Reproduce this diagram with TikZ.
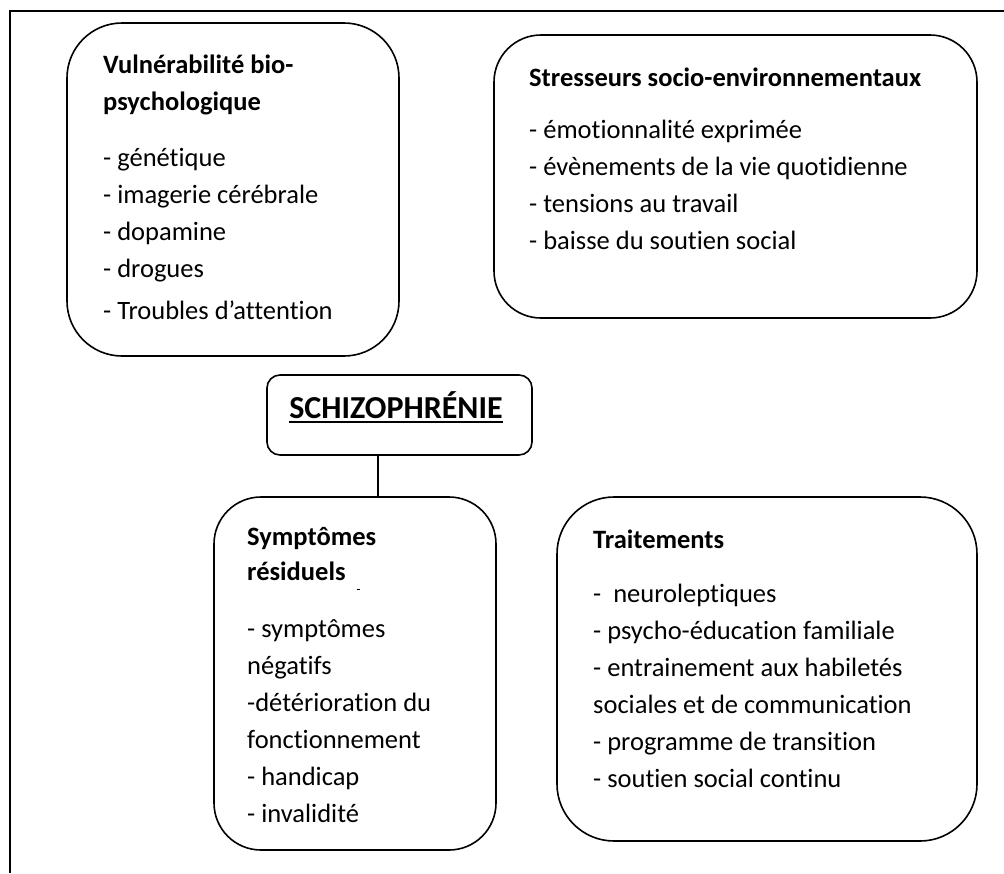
\documentclass[tikz,border=0pt]{standalone}
\usepackage{fontspec}
\setmainfont{Carlito}[Ligatures={TeX,NoCommon}]
\usepackage{tikz}

\newcommand{\thickul}[1]{\setbox0\hbox{#1}\rlap{\rule[-5pt]{\wd0}{2pt}}\box0}

\begin{document}
\begin{tikzpicture}[x=1pt, y=-1pt,
        roundbox/.style={draw, line width=1.6pt, inner sep=0pt},
        boxtext/.style={anchor=north west, inner sep=0pt, align=left,
            font=\fontsize{26.5}{37}\selectfont}]

        \useasboundingbox (0,0) rectangle (1004,873);

        % Frame of the page
        \draw[line width=1.5pt] (10,873) -- (10,11) -- (1004,11);

        % Defining the boxes
        \node[roundbox, minimum width=332, minimum height=333, rounded corners=55pt] (vulnerabilite) at (233,189.5) {};
        \node[roundbox, minimum width=483, minimum height=283, rounded corners=47pt] (stresseurs) at (735.5,176.5) {};
        \node[roundbox, minimum width=265, minimum height=80, rounded corners=13pt] (schizo) at (399.5,415) {};
        \node[roundbox, minimum width=282, minimum height=353, rounded corners=47pt] (symptomes) at (355,673.5) {};
        \node[roundbox, minimum width=420, minimum height=344, rounded corners=57pt] (traitements) at (767,669) {};

        % Texts of the boxes
        \node[boxtext] (vulntext) at (103,47.1) {\strut\textbf{Vulnérabilité bio-}\\
            \textbf{psychologique}\\[19pt]
            - génétique\\
            - imagerie cérébrale\\
            - dopamine\\
            - drogues\\[5pt]
            - Troubles d’attention};
        \node[boxtext] (stresstext) at (529,60.1) {\strut\textbf{Stresseurs socio-environnementaux}\\[15pt]
            - émotionnalité exprimée\\
            - évènements de la vie quotidienne\\
            - tensions au travail\\
            - baisse du soutien social};
        \node[anchor=base, inner sep=0pt, font=\fontsize{32}{38}\selectfont\bfseries] (schizotext) at (396,418) {\thickul{SCHIZOPHRÉNIE}};
        \node[boxtext] (symptext) at (247,519.1) {\strut\textbf{Symptômes}\\[-2pt]
            \textbf{résiduels}\\[20pt]
            - symptômes\\
            négatifs\\
            -détérioration du\\
            fonctionnement\\
            - handicap\\
            - invalidité};
        \node[boxtext] (traittext) at (593,522.1) {\strut\textbf{Traitements}\\[17pt]
            - ~neuroleptiques\\
            - psycho-éducation familiale\\
            - entrainement aux habiletés\\
            sociales et de communication\\
            - programme de transition\\
            - soutien social continu};

        % Link and stray mark
        \draw[line width=1.3pt] ([xshift=-21.5pt]schizo.south) -- ([xshift=-21.5pt]schizo.south |- symptomes.north);
        \draw[line width=1pt] (356.5,589) -- (359.5,589);

    \end{tikzpicture}
\end{document}
